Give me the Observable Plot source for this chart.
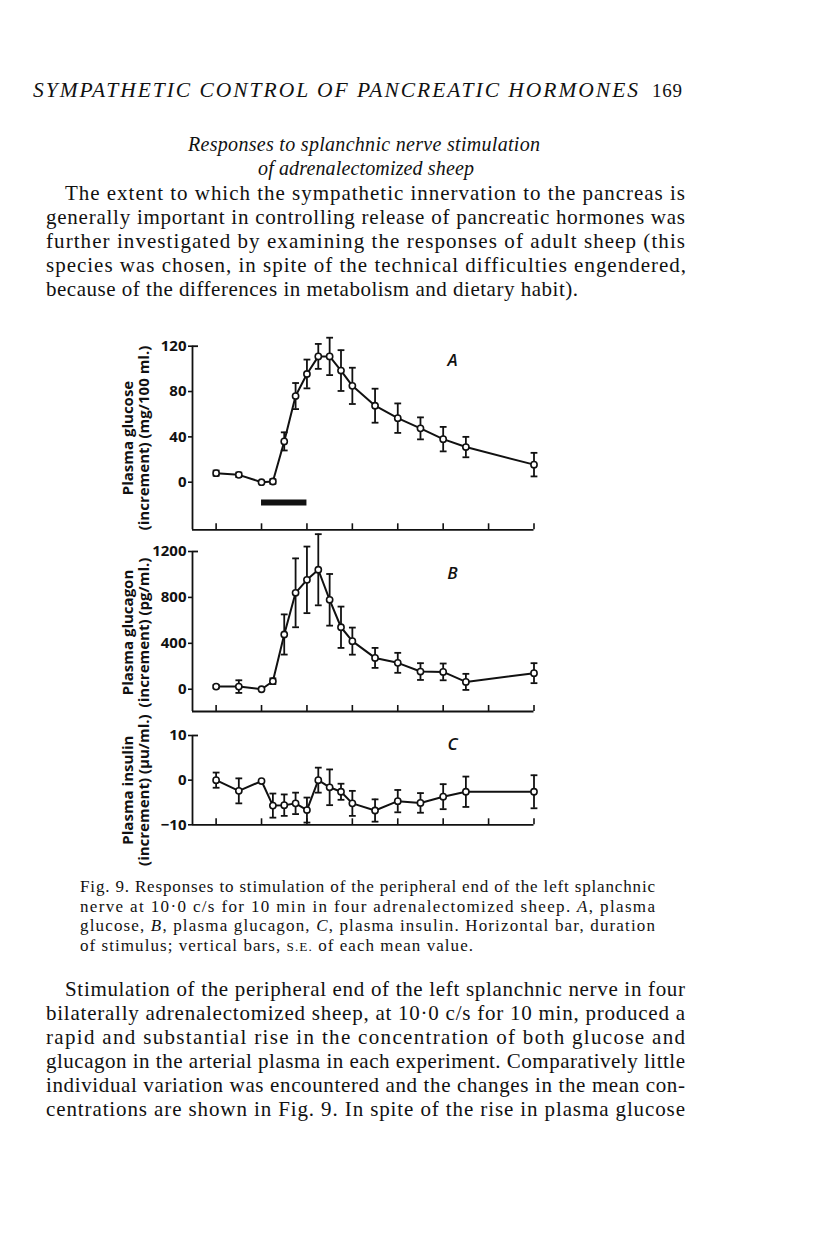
<!DOCTYPE html>
<html>
<head>
<meta charset="utf-8">
<script src="https://cdn.jsdelivr.net/npm/d3@7"></script>
<script src="https://cdn.jsdelivr.net/npm/@observablehq/plot@0.6"></script>
<style>
  html, body { margin: 0; padding: 0; background: #fff; }
  #page { position: relative; width: 816px; height: 1235px; overflow: hidden; background: #fff; }
  #page > svg, #page > .panel { position: absolute; left: 0; }
  .panel svg { overflow: visible; }
</style>
</head>
<body>
<div id="page"></div>
<script>
// ---------- Data ----------
const minutes     = [-10, -5, 0, 2.5, 5, 7.5, 10, 12.5, 15, 17.5, 20, 25, 30, 35, 40, 45, 60];
const glucose     = [8, 6.5, 0, 0.6, 36, 76, 95.5, 111, 111, 98.5, 85, 67.5, 56.5, 47.5, 38, 31, 15.5];
const glucoseSE   = [2.3, 2, 0, 2, 8, 11.5, 12.7, 11, 16.5, 18, 16, 15, 13, 9.7, 10.8, 9, 10.4];
const glucagon    = [23, 23, 0, 70, 477, 840, 953, 1041, 779, 540, 419, 273, 230, 154, 151, 64, 140];
const glucagonSE  = [15, 55, 0, 25, 175, 300, 290, 310, 225, 180, 118, 87, 87, 73, 73, 70, 87];
const insulin     = [0, -2.4, -0.2, -5.7, -5.6, -5.2, -6.7, 0, -1.6, -2.6, -5.2, -6.8, -4.7, -5.1, -3.7, -2.6, -2.6];
const insulinSE   = [1.7, 2.8, 0, 2.7, 2.4, 2.4, 2.8, 2.8, 4, 1.8, 2.8, 2.5, 2.5, 2.2, 2.8, 3.4, 3.7];
const xTicks      = [-10, 0, 10, 20, 30, 40, 50, 60];
const glucoseTicks  = [0, 40, 80, 120];
const glucagonTicks = [0, 400, 800, 1200];
const insulinTicks  = [-10, 0, 10];
const stimulus = [{start: 0, end: 10, level: -18}];

// ---------- Text ----------
const headerText = "SYMPATHETIC CONTROL OF PANCREATIC HORMONES";
const pageNumber = "169";
const titleLines = ["Responses to splanchnic nerve stimulation", "of adrenalectomized sheep"];
const introLines = [
  "The extent to which the sympathetic innervation to the pancreas is",
  "generally important in controlling release of pancreatic hormones was",
  "further investigated by examining the responses of adult sheep (this",
  "species was chosen, in spite of the technical difficulties engendered,",
  "because of the differences in metabolism and dietary habit)."
];
const captionLines = [
  "Fig. 9. Responses to stimulation of the peripheral end of the left splanchnic",
  "nerve at 10\u00b70 c/s for 10 min in four adrenalectomized sheep. *A*, plasma",
  "glucose, *B*, plasma glucagon, *C*, plasma insulin. Horizontal bar, duration",
  "of stimulus; vertical bars, ^S.E.^ of each mean value."
];
const bodyLines = [
  "Stimulation of the peripheral end of the left splanchnic nerve in four",
  "bilaterally adrenalectomized sheep, at 10\u00b70 c/s for 10 min, produced a",
  "rapid and substantial rise in the concentration of both glucose and",
  "glucagon in the arterial plasma in each experiment. Comparatively little",
  "individual variation was encountered and the changes in the mean con-",
  "centrations are shown in Fig. 9. In spite of the rise in plasma glucose"
];

const page = document.getElementById("page");
const NS = "http://www.w3.org/2000/svg";
const textSvg = document.createElementNS(NS, "svg");
textSvg.setAttribute("width", 816);
textSvg.setAttribute("height", 1235);
textSvg.style.top = "0px";
page.appendChild(textSvg);

function addLine(str, x1, x2, baseline, size, italic) {
  const t = document.createElementNS(NS, "text");
  t.setAttribute("x", x1);
  t.setAttribute("y", baseline);
  t.setAttribute("font-family", "'Liberation Serif', 'DejaVu Serif', serif");
  t.setAttribute("font-size", size);
  t.setAttribute("fill", "#111");
  if (italic) t.setAttribute("font-style", "italic");
  const parts = str.split(/(\*[^*]+\*|\^[^^]+\^)/);
  for (const p of parts) {
    if (!p) continue;
    const s = document.createElementNS(NS, "tspan");
    if (p.startsWith("*")) { s.textContent = p.slice(1, -1); s.setAttribute("font-style", "italic"); }
    else if (p.startsWith("^")) { s.textContent = p.slice(1, -1); s.setAttribute("font-size", size * 0.78); }
    else s.textContent = p;
    t.appendChild(s);
  }
  t.setAttribute("textLength", x2 - x1);
  t.setAttribute("lengthAdjust", "spacing");
  textSvg.appendChild(t);
}

addLine(headerText, 33, 638, 97, 21.5, true);
addLine(pageNumber, 652, 682, 97, 19, false);
addLine(titleLines[0], 188, 540, 151, 20, true);
addLine(titleLines[1], 258, 474, 175, 20, true);
const introX1 = [65, 46, 46, 46, 46], introX2 = [685, 685, 685, 686, 578];
introLines.forEach((l, i) => addLine(l, introX1[i], introX2[i], 200 + 24 * i, 21, false));
const capX2 = [655, 655, 655, 473];
captionLines.forEach((l, i) => addLine(l, 80, capX2[i], 892 + 19.7 * i, 17, false));
bodyLines.forEach((l, i) => addLine(l, i === 0 ? 65 : 46, 685, 996 + 24 * i, 21, false));

// ---------- Chart panels ----------
const X_DOMAIN = [-15.2, 60];
const ML = 192, MR = 282.5, W = 816;
const capSymbol = { draw(ctx, size) { const r = Math.sqrt(size / Math.PI); ctx.moveTo(-r, 0); ctx.lineTo(r, 0); } };
const fmt = d => d < 0 ? "\u2212" + Math.abs(d) : String(d);

function panel({values, se, domain, ticks, label, letter, letterDy, labelDy, top, height, marginTop, marginBottom, extra = []}) {
  const data = minutes.map((m, i) => ({m, v: values[i], lo: values[i] - se[i], hi: values[i] + se[i], se: se[i]}));
  const withSE = data.filter(d => d.se > 0);
  const innerH = height - marginTop - marginBottom;
  const innerW = W - ML - MR;
  const chart = Plot.plot({
    width: W, height, marginLeft: ML, marginRight: MR, marginTop, marginBottom,
    style: {fontFamily: "'Open Sans', Lato, sans-serif", background: "transparent", overflow: "visible", color: "#111"},
    x: {domain: X_DOMAIN, axis: null},
    y: {domain, axis: null},
    marks: [
      Plot.ruleX([X_DOMAIN[0]], {strokeWidth: 1.8, stroke: "#111"}),
      Plot.ruleY([domain[0]], {strokeWidth: 1.8, stroke: "#111"}),
      Plot.ruleY([domain[1]], {strokeWidth: 1.8, stroke: "#111", insetRight: innerW - 6}),
      Plot.ruleX(xTicks, {strokeWidth: 1.6, stroke: "#111", insetTop: innerH - 6}),
      Plot.axisY({ticks, tickFormat: fmt, tickSize: 4, tickPadding: 2, fontSize: 15, fontWeight: "bold", strokeWidth: 1.6, stroke: "#111"}),
      Plot.text([label], {frameAnchor: "left", rotate: -90, dx: -57, dy: labelDy, textAnchor: "middle", lineAnchor: "middle",
        lineHeight: 1.1, fontSize: 15, fontWeight: "bold", fill: "#111"}),
      Plot.text([letter], {frameAnchor: "top-left", dx: 260, dy: letterDy, textAnchor: "middle", lineAnchor: "middle",
        fontSize: 17, fontStyle: "italic", fontWeight: "600", fill: "#111"}),
      ...extra,
      Plot.ruleX(withSE, {x: "m", y1: "lo", y2: "hi", strokeWidth: 1.8, stroke: "#111"}),
      Plot.dot(withSE, {x: "m", y: "hi", symbol: capSymbol, r: 3.4, stroke: "#111", strokeWidth: 1.8}),
      Plot.dot(withSE, {x: "m", y: "lo", symbol: capSymbol, r: 3.4, stroke: "#111", strokeWidth: 1.8}),
      Plot.line(data, {x: "m", y: "v", strokeWidth: 2, stroke: "#111"}),
      Plot.dot(data, {x: "m", y: "v", r: 3.1, fill: "white", stroke: "#111", strokeWidth: 1.6})
    ]
  });
  const wrap = document.createElement("div");
  wrap.className = "panel";
  wrap.style.top = top + "px";
  wrap.appendChild(chart);
  page.appendChild(wrap);
}

panel({
  values: glucose, se: glucoseSE, domain: [-42, 120], ticks: glucoseTicks,
  label: "Plasma glucose\n(increment) (mg/100 ml.)", letter: "A", letterDy: 14.3, labelDy: 0,
  top: 330, height: 206, marginTop: 15.7, marginBottom: 6.7,
  extra: [Plot.ruleY(stimulus, {y: "level", x1: "start", x2: "end", strokeWidth: 6, stroke: "#111"})]
});
panel({
  values: glucagon, se: glucagonSE, domain: [-194, 1200], ticks: glucagonTicks,
  label: "Plasma glucagon\n(increment) (pg/ml.)", letter: "B", letterDy: 22, labelDy: 1,
  top: 536, height: 181, marginTop: 15, marginBottom: 6
});
panel({
  values: insulin, se: insulinSE, domain: [-10, 10], ticks: insulinTicks,
  label: "Plasma insulin\n(increment) (\u03bcu/ml.)", letter: "C", letterDy: 9, labelDy: 10,
  top: 720, height: 149, marginTop: 15, marginBottom: 44.7
});
</script>
</body>
</html>
